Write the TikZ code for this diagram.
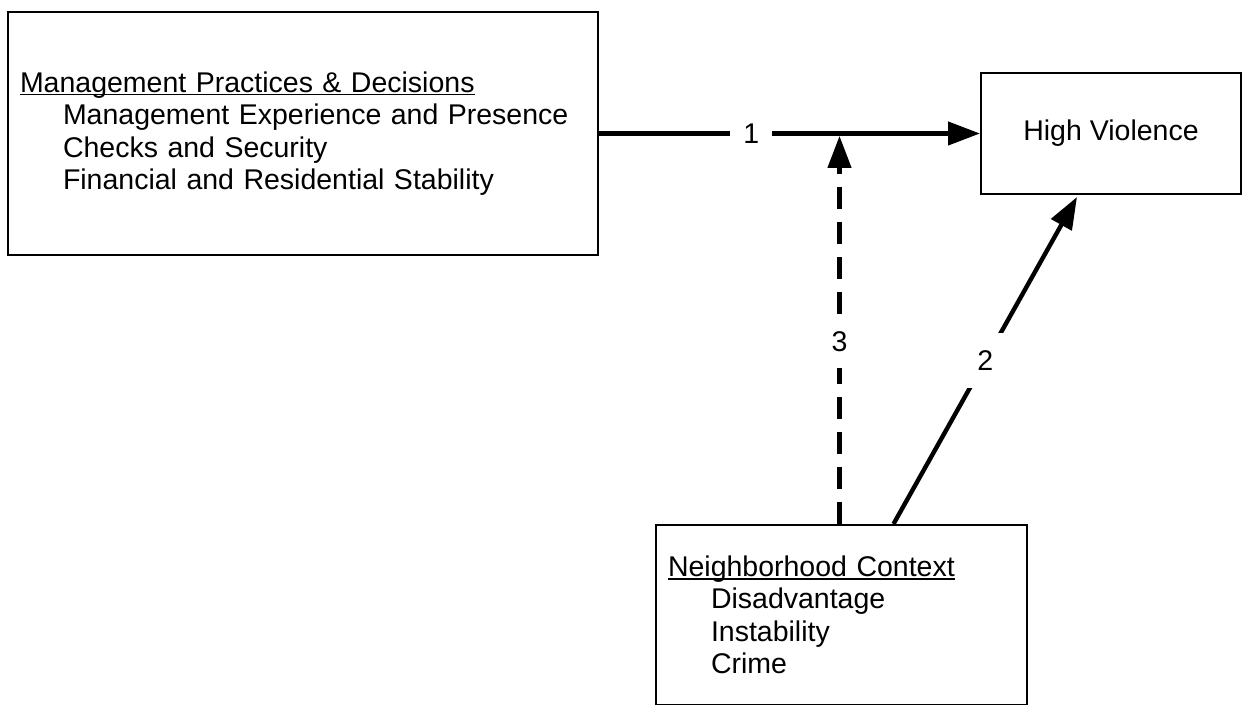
\documentclass[tikz,border=0pt]{standalone}
\usepackage{fontspec}
\setmainfont{Liberation Sans}
\usetikzlibrary{arrows.meta}
\newcommand{\boxtitle}[1]{\setbox0\hbox{#1}\rlap{\rule[-1.6pt]{\wd0}{0.8pt}}\box0}
\newcommand{\boxitem}{\hspace*{21.5pt}}

\begin{document}
\begin{tikzpicture}[x=0.5pt,y=-0.5pt,
  box/.style={draw,line width=1pt,rectangle,inner xsep=6pt,inner ysep=0pt,align=left,font=\fontsize{14.25pt}{16.25pt}\selectfont},
  link/.style={line width=2.2pt,-{Triangle[length=16pt,width=11.5pt]}},
  num/.style={fill=white,inner sep=6.5pt,font=\fontsize{14.25pt}{16.25pt}\selectfont}]
\useasboundingbox (0,0) rectangle (1244,705);
% the three boxes
\node[box,text width=283pt,minimum height=121.5pt](mgmt) at (303,133.5) {\boxtitle{Management Practices \& Decisions}\\
   \boxitem Management Experience and Presence\\
   \boxitem Checks and Security\\
   \boxitem Financial and Residential Stability};
\node[box,minimum width=130pt,minimum height=60.5pt](hv) at (1111,133.5) {High Violence};
\node[box,text width=173.5pt,minimum height=90pt](nbr) at (841.5,615) {\boxtitle{Neighborhood Context}\\
   \boxitem Disadvantage\\
   \boxitem Instability\\
   \boxitem Crime};
% paths
\coordinate (hit) at (nbr.north |- mgmt.east);
\draw[link] (mgmt) -- node[num,pos=0.4](n1){1} (hv);
\draw[link,dash pattern=on 11pt off 6.5pt] ([xshift=-1pt]nbr.north) -- node[num,pos=0.47,inner ysep=8pt](n3){3} ([xshift=-1pt,yshift=-1.2pt]hit);
\draw[link] ([xshift=26pt]nbr.north) -- node[num,inner sep=9pt](n2){2} ([xshift=-17pt,yshift=-1pt]hv.south);
\end{tikzpicture}
\end{document}
